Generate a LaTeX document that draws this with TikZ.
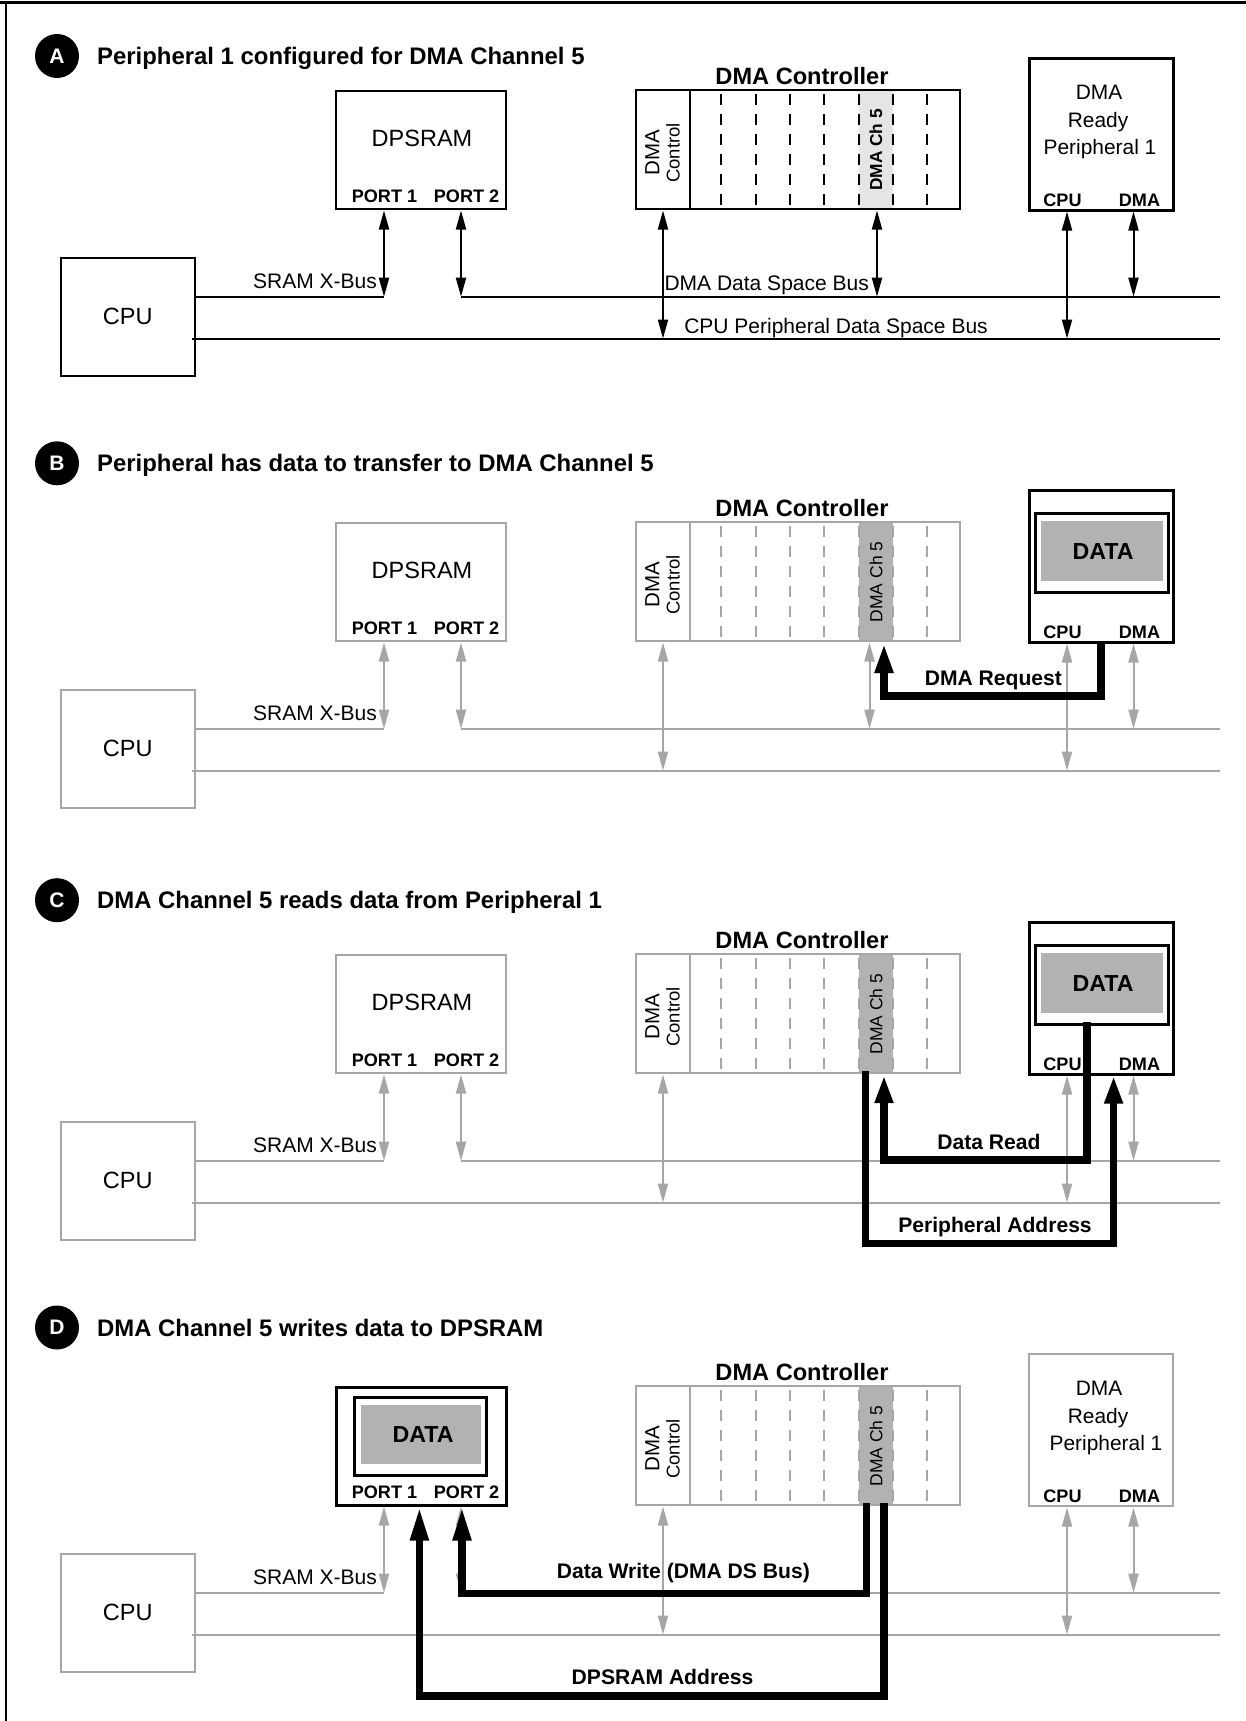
\documentclass[tikz,border=0pt]{standalone}
\usepackage{fontspec}
\setmainfont{Liberation Sans}
\usetikzlibrary{arrows.meta}
\colorlet{lg}{black!35}
\colorlet{mg}{black!30}
\colorlet{vlg}{black!10}
\newcommand\fs[1]{\fontsize{#1}{#1}\selectfont}
\tikzset{
  fgc/.style={color=black},
  boxn/.style={draw, fgc, line width=2pt, inner sep=0pt, outer sep=0pt},
  bline/.style={fgc, line width=2pt},
  dsh/.style={fgc, line width=1.8pt, dash pattern=on 11pt off 9pt, dash phase=16pt},
  dbl/.style={fgc, line width=2pt, {Triangle[length=19pt,width=10pt]}-{Triangle[length=19pt,width=10pt]}},
  thk/.style={line width=7.5pt, black, line join=miter, -{Triangle[length=#1,width=17pt]}},
  thk/.default=30pt,
  txt/.style={inner sep=0pt, text=black, anchor=center, text depth=0pt},
  ttl/.style={txt, font=\fs{23.9}\bfseries, text height=17.1pt},
  big/.style={txt, font=\fs{23.5}, text height=16.8pt},
  busl/.style={txt, font=\fs{21}, text height=15pt},
  port/.style={txt, font=\fs{18.1}\bfseries, text height=13pt},
  per/.style={txt, font=\fs{20.9}, text height=15pt},
  ctl/.style={txt, font=\fs{23.6}\bfseries, text height=16.9pt},
  arr/.style={txt, font=\fs{21.1}\bfseries, text height=15.1pt},
  datat/.style={txt, font=\fs{23.2}\bfseries, text height=16.6pt},
  rotA/.style={txt, font=\fs{20.5}, text height=14.7pt},
  rotB/.style={txt, font=\fs{18.5}, text height=13.2pt},
  chA/.style={txt, font=\fs{17.3}\bfseries, text height=12.4pt},
  chB/.style={txt, font=\fs{17.5}, text height=12.5pt},
  letter/.style={circle, fill=black, inner sep=0pt, minimum size=44pt, text=white, font=\fs{21}\bfseries},
}
% CPU box and the three buses
\newcommand\cpubus[1]{%
  \node[boxn, minimum width=134.5pt, minimum height=117.5pt] (#1cpu) at (127.75,316.75) {};
  \node[big] (#1cput) at (127.7,315.7) {CPU};
  \coordinate (#1xb0) at (195,296.7);
  \coordinate (#1xb1) at (384,296.7);
  \coordinate (#1db0) at (461,296.7);
  \coordinate (#1db1) at (1219.5,296.7);
  \coordinate (#1pb0) at (192,338.5);
  \coordinate (#1pb1) at (1219.5,338.5);
  \draw[bline] (#1xb0) -- (#1xb1);
  \draw[bline] (#1db0) -- (#1db1);
  \draw[bline] (#1pb0) -- (#1pb1);
  \node[busl, anchor=east] (#1xbl) at (377,281) {SRAM X-Bus};
}
% DPSRAM ports and their arrows
\newcommand\dpsports[1]{%
  \node[port] (#1p1) at (384.5,195.5) {PORT 1};
  \node[port] (#1p2) at (466.6,195.5) {PORT 2};
  \coordinate (#1dpa) at (384,210.5);
  \coordinate (#1dpb) at (461,210.5);
  \draw[dbl] (#1dpa) -- (#1xb1);
  \draw[dbl] (#1dpb) -- (#1db0);
}
\newcommand\dps[1]{%
  \node[boxn, minimum width=170pt, minimum height=118pt] (#1dp) at (421,150) {};
  \node[big] (#1dpt) at (422,138) {DPSRAM};
  \dpsports{#1}%
}
% DMA controller
\newcommand\dmac[3]{%
  \node[ctl] (#1dct) at (802,76) {DMA Controller};
  \node[fill=#2, inner sep=0pt, outer sep=0pt, minimum width=34pt, minimum height=119pt] (#1ch5) at (876,149.5) {};
  \node[boxn, minimum width=324.5pt, minimum height=119pt] (#1dc) at (797.75,149.5) {};
  \draw[bline] (689.5,90) -- (689.5,209);
  \foreach \xx in {721,756,790,824,859,893,927} {\draw[dsh] (\xx,90) -- (\xx,209);}
  \node[rotA, rotate=90] (#1dcm) at (652,152.5) {DMA};
  \node[rotB, rotate=90] (#1dcc) at (673,153) {Control};
  \node[#3, rotate=90] (#1c5t) at (876,150) {DMA Ch 5};
  \coordinate (#1dca) at (663,210.5);
  \coordinate (#1dcb) at (663,338.5);
  \draw[dbl] (#1dca) -- (#1dcb);
}
% peripheral port labels and arrows
\newcommand\perlbl[1]{%
  \node[port] (#1pcpu) at (1062.5,200) {CPU};
  \node[port] (#1pdma) at (1139.5,200) {DMA};
  \coordinate (#1pa) at (1067,211.5);
  \coordinate (#1pab) at (1067,338.5);
  \coordinate (#1pb) at (1133.5,211.5);
  \coordinate (#1pbb) at (1133.5,296.7);
  \draw[dbl] (#1pa) -- (#1pab);
  \draw[dbl] (#1pb) -- (#1pbb);
}
\newcommand\pertxt[2]{%
  \node[per] (#1pt1) at (1099,92) {DMA};
  \node[per] (#1pt2) at (1098,120) {Ready};
  \node[per] (#1pt3) at (#2,146.5) {Peripheral 1};
}
\newcommand\perdata[1]{%
  \node[boxn, draw=black, line width=3pt, minimum width=144pt, minimum height=152pt] (#1pr) at (1101,134) {};
  \node[draw=black, line width=3pt, inner sep=0pt, minimum width=133.5pt, minimum height=79pt] (#1in) at (1101.75,120.5) {};
  \node[fill=mg, inner sep=0pt, minimum width=121.2pt, minimum height=60pt] (#1gr) at (1101.9,119) {};
  \node[datat] (#1dat) at (1103,119) {DATA};
}
\begin{document}
\begin{tikzpicture}[x=1pt,y=-1pt]
\useasboundingbox (0,0) rectangle (1246,1721);
\fill[white] (0,0) rectangle (1246,1721);
\draw[line width=2.5pt] (0,2.5) -- (1246,2.5);
\draw[line width=2.3pt] (6,2.5) -- (6,1721);

% titles
\node[letter] (cA) at (57,56) {A};
\node[ttl, anchor=west] (tA) at (97,56) {Peripheral 1 configured for DMA Channel 5};
\node[letter] (cB) at (57,463.3) {B};
\node[ttl, anchor=west] (tB) at (97,463.3) {Peripheral has data to transfer to DMA Channel 5};
\node[letter] (cC) at (57,900.2) {C};
\node[ttl, anchor=west] (tC) at (97,900.2) {DMA Channel 5 reads data from Peripheral 1};
\node[letter] (cD) at (57,1327.5) {D};
\node[ttl, anchor=west] (tD) at (97,1327.5) {DMA Channel 5 writes data to DPSRAM};

% ---------------- Panel A
\begin{scope}
  \cpubus{a}
  \dps{a}
  \dmac{a}{vlg}{chA}
  \coordinate (ac5a) at (877,210.5);
  \coordinate (ac5b) at (877,296.7);
  \draw[dbl] (ac5a) -- (ac5b);
  \node[boxn, line width=3pt, minimum width=144pt, minimum height=152pt] (apr) at (1101,134) {};
  \pertxt{a}{1100}
  \perlbl{a}
  \node[busl] (adsb) at (766.7,283.3) {DMA Data Space Bus};
  \node[busl] (apdsb) at (836,326) {CPU Peripheral Data Space Bus};
\end{scope}

% ---------------- Panel B
\begin{scope}[shift={(0,432)}, fgc/.style={color=lg}]
  \cpubus{b}
  \dps{b}
  \dmac{b}{mg}{chB}
  \coordinate (bc5a) at (869.5,210.5);
  \coordinate (bc5b) at (869.5,296.7);
  \draw[dbl] (bc5a) -- (bc5b);
  \perlbl{b}
  \perdata{b}
  \coordinate (brq0) at (1101,210);
  \coordinate (brq1) at (884,211);
  \draw[thk=30pt] (brq0) -- ++(0,54) -| (brq1);
  \node[arr] (brql) at (993.4,246.3) {DMA Request};
\end{scope}

% ---------------- Panel C
\begin{scope}[shift={(0,864)}, fgc/.style={color=lg}]
  \cpubus{c}
  \dps{c}
  \dmac{c}{mg}{chB}
  \perlbl{c}
  \perdata{c}
  \coordinate (cdr0) at (1087,158);
  \coordinate (cdr1) at (884,211);
  \draw[thk=28pt] (cdr0) -- ++(0,138) -| (cdr1);
  \node[arr] (cdrl) at (988.9,277.7) {Data Read};
  \coordinate (cpa0) at (865.5,207);
  \coordinate (cpa1) at (1113.6,211.5);
  \draw[thk=28pt] (cpa0) -- ++(0,172.3) -| (cpa1);
  \node[arr] (cpal) at (995,361) {Peripheral Address};
\end{scope}

% ---------------- Panel D
\begin{scope}[shift={(0,1296)}, fgc/.style={color=lg}]
  \cpubus{d}
  \node[boxn, draw=black, line width=3pt, minimum width=170pt, minimum height=118pt] (ddp) at (421,150) {};
  \node[draw=black, line width=3pt, inner sep=0pt, minimum width=132.1pt, minimum height=77.7pt] (din) at (420.55,140.15) {};
  \node[fill=mg, inner sep=0pt, minimum width=119.7pt, minimum height=59pt] (dgr) at (421.15,138.5) {};
  \node[datat] (ddat) at (423,138.5) {DATA};
  \dpsports{d}
  \dmac{d}{mg}{chB}
  \node[boxn, minimum width=144pt, minimum height=152pt] (dpr) at (1101,134) {};
  \pertxt{d}{1106}
  \perlbl{d}
  \coordinate (ddw0) at (866.5,207);
  \coordinate (ddw1) at (462,210.5);
  \draw[thk=34pt] (ddw0) -- ++(0,90.3) -| (ddw1);
  \node[arr] (ddwl) at (683.4,274.7) {Data Write (DMA DS Bus)};
  \coordinate (dda0) at (884,207);
  \coordinate (dda1) at (419.4,210.5);
  \draw[thk=34pt] (dda0) -- ++(0,193) -| (dda1);
  \node[arr] (ddal) at (662.6,381.3) {DPSRAM Address};
\end{scope}
\end{tikzpicture}
\end{document}
